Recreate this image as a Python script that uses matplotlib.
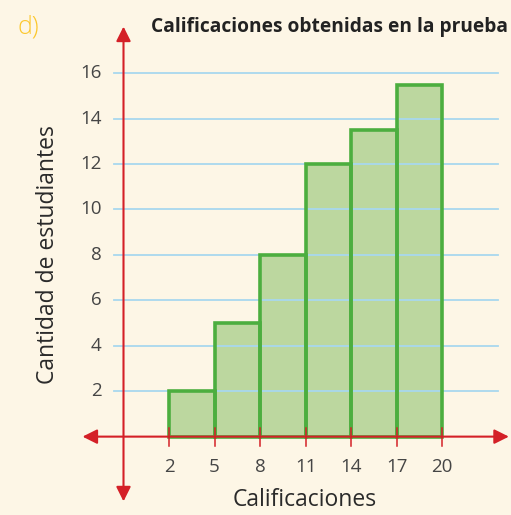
import numpy as np
import matplotlib.pyplot as plt

plt.rcParams['font.family'] = ['Open Sans', 'DejaVu Sans']

# datos del histograma
limites = [2, 5, 8, 11, 14, 17, 20]
frecuencias = [2, 5, 8, 12, 13.5, 15.5]
marcas_y = [2, 4, 6, 8, 10, 12, 14, 16]

fondo = '#fdf6e6'
rojo = '#d42027'
verde_borde = '#4cae3f'
verde_relleno = '#bcd79f'
azul = '#a8d8ee'
gris = '#454545'

fig = plt.figure(figsize=(5.11, 5.15), dpi=100, facecolor=fondo)
ax = fig.add_axes([0, 0, 1, 1])
ax.set_facecolor(fondo)
ax.set_xlim(-9.14, 24.54)
ax.set_ylim(-3.45, 19.22)
ax.axis('off')

# lineas horizontales de referencia
for v in marcas_y:
    ax.plot([-1.6, 23.7], [v, v], color=azul, lw=1.3, zorder=3)
    ax.text(-2.45, v, str(v), ha='right', va='center', fontsize=13.5, color=gris)

# barras: relleno bajo la cuadricula, borde encima
anchos = np.diff(limites)
ax.bar(limites[:-1], frecuencias, width=anchos, align='edge',
       color=verde_relleno, linewidth=0, zorder=2)
ax.bar(limites[:-1], frecuencias, width=anchos, align='edge',
       fill=False, edgecolor=verde_borde, linewidth=2.6, zorder=4)

# ejes con flechas
ax.annotate('', xy=(24.4, 0), xytext=(-3.7, 0),
            arrowprops=dict(arrowstyle='<|-|>', color=rojo, lw=1.5,
                            mutation_scale=22, shrinkA=0, shrinkB=0), zorder=5)
ax.annotate('', xy=(-1, 18.05), xytext=(-1, -2.85),
            arrowprops=dict(arrowstyle='<|-|>', color=rojo, lw=1.5,
                            mutation_scale=22, shrinkA=0, shrinkB=0), zorder=5)

# marcas del eje x
for v in limites:
    ax.plot([v, v], [-0.42, 0.38], color=rojo, lw=1.1, zorder=6)
    ax.text(v, -1.35, str(v), ha='center', va='center', fontsize=13.5, color=gris)

ax.text(10.97, -2.8, 'Calificaciones', ha='center', va='center', fontsize=16.5, color='#2a2a2a')
ax.text(-6.0, 8.0, 'Cantidad de estudiantes', ha='center', va='center',
        rotation=90, fontsize=16.5, color='#2a2a2a')
ax.text(12.6, 18.05, 'Calificaciones obtenidas en la prueba', ha='center', va='center',
        fontsize=13.8, fontweight='bold', color='#222222')
ax.text(-7.3, 18.05, 'd)', ha='center', va='center', fontsize=18, color='#fcc72b',
        fontweight='light')

fig.savefig('out.png', dpi=100, facecolor=fondo)
